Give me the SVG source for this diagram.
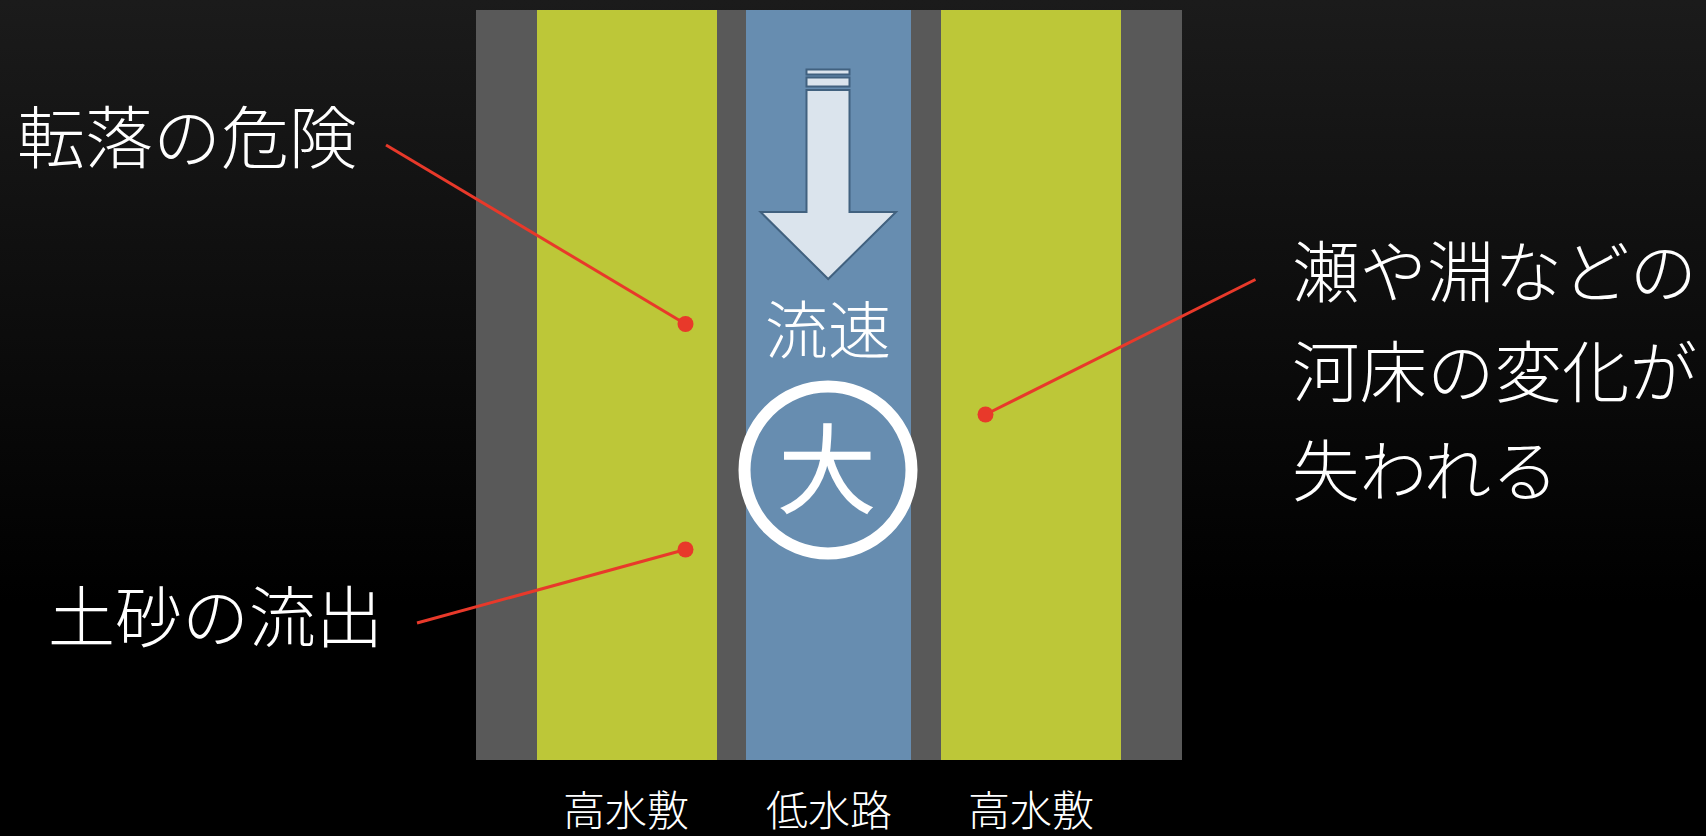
<svg xmlns="http://www.w3.org/2000/svg" width="1706" height="836" viewBox="0 0 1706 836">
  <defs>
    <linearGradient id="bg" x1="0" y1="0" x2="0" y2="1">
      <stop offset="0" stop-color="#1b1b1b"/>
      <stop offset="0.72" stop-color="#000000"/>
      <stop offset="1" stop-color="#000000"/>
    </linearGradient>
  </defs>
  <style>
    .txt { font-family: "Noto Sans CJK JP", "Noto Sans CJK SC", sans-serif; fill: #ffffff; font-weight: 300; }
    .gray { fill: #595959; }
    .bank { fill: #bdc738; }
    .water { fill: #678db0; }
    .arrow { fill: #dbe4ed; stroke: #41617f; stroke-width: 2; }
    .lead { stroke: #e8392a; stroke-width: 3; fill: none; }
    .dot { fill: #e8392a; }
  </style>
  <rect x="0" y="0" width="1706" height="836" fill="url(#bg)"/>

  <g id="river">
    <rect class="gray" x="476" y="10" width="706" height="750"/>
    <rect class="bank" x="537" y="10" width="180" height="750"/>
    <rect class="water" x="746" y="10" width="165" height="750"/>
    <rect class="bank" x="941" y="10" width="180" height="750"/>
  </g>

  <g id="flow-arrow">
    <rect class="arrow" x="806.5" y="69.5" width="43" height="5"/>
    <rect class="arrow" x="806.5" y="77.5" width="43" height="9"/>
    <path class="arrow" d="M806.5,90 L849.5,90 L849.5,212 L896,212 L828.2,279 L760.5,212 L806.5,212 Z"/>
  </g>

  <g id="speed">
    <text class="txt" x="828" y="353" font-size="63" text-anchor="middle">流速</text>
    <circle cx="828" cy="470" r="83.5" fill="none" stroke="#ffffff" stroke-width="12"/>
    <text class="txt" x="827" y="505" font-size="95" text-anchor="middle" stroke="#ffffff" stroke-width="3.5">大</text>
  </g>

  <g id="label-fall">
    <text class="txt" x="17" y="163" font-size="68">転落の危険</text>
  </g>
  <g id="label-sediment">
    <text class="txt" x="48" y="642" font-size="67">土砂の流出</text>
  </g>
  <g id="label-riverbed">
    <text class="txt" x="1292" y="297" font-size="67.5">瀬や淵などの</text>
    <text class="txt" x="1292" y="397" font-size="67.5">河床の変化が</text>
    <text class="txt" x="1292" y="496" font-size="67.5">失われる</text>
  </g>

  <g id="label-bottom">
    <text class="txt" x="626" y="826" font-size="42" text-anchor="middle">高水敷</text>
    <text class="txt" x="829" y="826" font-size="42" text-anchor="middle">低水路</text>
    <text class="txt" x="1031" y="826" font-size="42" text-anchor="middle">高水敷</text>
  </g>

  <g id="connectors">
    <line class="lead" x1="386" y1="145" x2="685.5" y2="324"/>
    <circle class="dot" cx="685.5" cy="324" r="8"/>
    <line class="lead" x1="417" y1="623" x2="685.5" y2="549.5"/>
    <circle class="dot" cx="685.5" cy="549.5" r="8"/>
    <line class="lead" x1="1255.5" y1="279.5" x2="985.5" y2="414.5"/>
    <circle class="dot" cx="985.5" cy="414.5" r="8"/>
  </g>
</svg>
